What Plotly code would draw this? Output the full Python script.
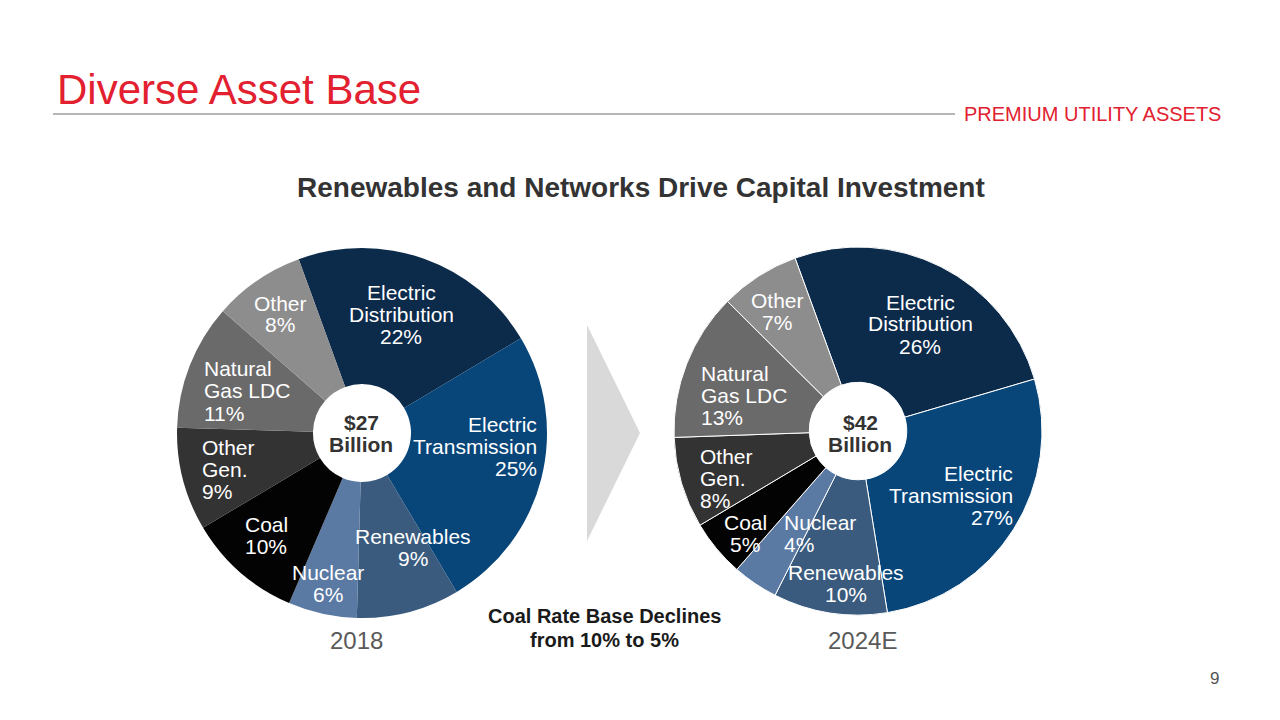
import plotly.graph_objects as go

# ---------------- data ----------------
categories = ["Electric Distribution", "Electric Transmission", "Renewables", "Nuclear",
              "Coal", "Other Gen.", "Natural Gas LDC", "Other"]
label_lines = [["Electric", "Distribution"], ["Electric", "Transmission"], ["Renewables"],
               ["Nuclear"], ["Coal"], ["Other", "Gen."], ["Natural", "Gas LDC"], ["Other"]]
share_2018 = [22, 25, 9, 6, 10, 9, 11, 8]
share_2024 = [26, 27, 10, 4, 5, 8, 13, 7]
years = ["2018", "2024E"]
totals = ["$27", "$42"]
slice_colors = ["#0c2b4b", "#08467a", "#3a5b7e", "#5a79a3", "#030303", "#333333", "#6a6a6a", "#8d8d8d"]

W, H = 1280, 720


def px(x):
    return x / W


def py(y):
    return 1 - y / H


fig = go.Figure()

# pie geometry (pixels): center x, center y, radius
pies = [
    dict(values=share_2018, cx=362, cy=433, r=185, line=0),
    dict(values=share_2024, cx=858, cy=431, r=184, line=1),
]
for p in pies:
    fig.add_trace(go.Pie(
        labels=categories, values=p["values"], sort=False, direction="clockwise",
        rotation=-20, hole=0.265, textinfo="none", hoverinfo="label+percent",
        marker=dict(colors=slice_colors, line=dict(color="white", width=p["line"])),
        domain=dict(x=[px(p["cx"] - p["r"]), px(p["cx"] + p["r"])],
                    y=[py(p["cy"] + p["r"]), py(p["cy"] - p["r"])]),
        showlegend=False,
    ))

FONT = "Liberation Sans, Arial, Helvetica, sans-serif"
annotations = []


def add_lines(lines, x, y0, anchor, size=21, color="white", bold=False, lh=22):
    for i, t in enumerate(lines):
        txt = f"<b>{t}</b>" if bold else t
        annotations.append(dict(
            text=txt, x=px(x), y=py(y0 + i * lh), xref="paper", yref="paper",
            xanchor=anchor, yanchor="middle", showarrow=False,
            font=dict(family=FONT, size=size, color=color)))


# slice label positions: (x, first-line y, anchor) per category
pos_2018 = [(401, 292, "center"), (539, 424, "right"), (413, 536, "center"), (328, 572, "center"),
            (266, 524, "center"), (200, 447, "left"), (202, 369, "left"), (280, 303, "center")]
pos_2024 = [(920, 302, "center"), (1015, 473, "right"), (846, 572, "center"), (782, 522, "left"),
            (745, 522, "center"), (698, 456, "left"), (699, 373, "left"), (777, 300, "center")]

for vals, poss in [(share_2018, pos_2018), (share_2024, pos_2024)]:
    for lines, v, (x, y, a) in zip(label_lines, vals, poss):
        add_lines(lines + [f"{v}%"], x, y, a)

# centre totals
add_lines([totals[0], "Billion"], 361, 422, "center", color="#333333", bold=True)
add_lines([totals[1], "Billion"], 860, 422, "center", color="#333333", bold=True)

# years
add_lines([years[0]], 356, 640, "center", size=24, color="#595959")
add_lines([years[1]], 862, 640, "center", size=24, color="#595959")

# coal note
add_lines(["Coal Rate Base Declines", "from 10% to 5%"], 604, 616, "center", size=20,
          color="#1a1a1a", bold=True, lh=24)

# titles
annotations.append(dict(text="Diverse Asset Base", x=px(55), y=py(89), xref="paper", yref="paper",
                        xanchor="left", yanchor="middle", showarrow=False,
                        font=dict(family=FONT, size=42, color="#e2202f")))
annotations.append(dict(text="PREMIUM UTILITY ASSETS", x=px(1223), y=py(114), xref="paper", yref="paper",
                        xanchor="right", yanchor="middle", showarrow=False,
                        font=dict(family=FONT, size=20, color="#e2202f")))
annotations.append(dict(text="<b>Renewables and Networks Drive Capital Investment</b>", x=px(641), y=py(188),
                        xref="paper", yref="paper", xanchor="center", yanchor="middle", showarrow=False,
                        font=dict(family=FONT, size=28, color="#333333")))
annotations.append(dict(text="9", x=px(1221), y=py(678), xref="paper", yref="paper",
                        xanchor="right", yanchor="middle", showarrow=False,
                        font=dict(family=FONT, size=17, color="#555555")))

shapes = [
    dict(type="line", xref="paper", yref="paper", x0=px(53), x1=px(955), y0=py(114), y1=py(114),
         line=dict(color="#6e6e6e", width=1.2)),
    dict(type="path", xref="paper", yref="paper",
         path=f"M {px(587)} {py(325)} L {px(640)} {py(433)} L {px(587)} {py(541)} Z",
         fillcolor="#d9d9d9", line=dict(width=0), layer="below"),
]

fig.update_layout(
    width=W, height=H, margin=dict(l=0, r=0, t=0, b=0),
    paper_bgcolor="white", plot_bgcolor="white",
    annotations=annotations, shapes=shapes,
    font=dict(family=FONT),
)

fig.write_html("out.html", config={"displayModeBar": False},
               post_script="document.body.style.margin='0';")
